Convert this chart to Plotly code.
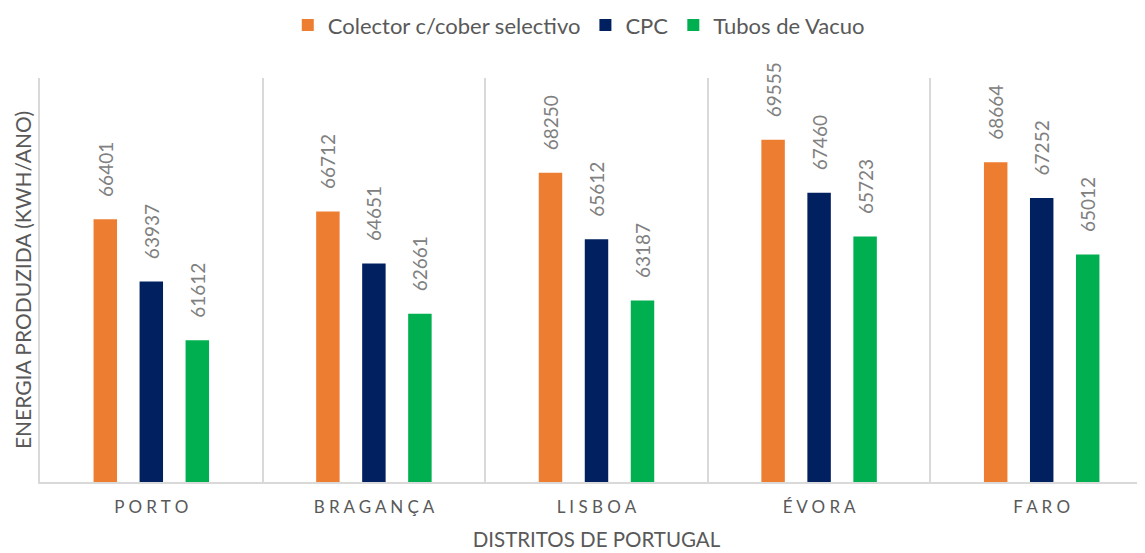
import plotly.graph_objects as go

districts = ["PORTO", "BRAGANÇA", "LISBOA", "ÉVORA", "FARO"]
series_names = ["Colector c/cober selectivo", "CPC", "Tubos de Vacuo"]
colector = [66401, 66712, 68250, 69555, 68664]
cpc = [63937, 64651, 65612, 67460, 67252]
tubos = [61612, 62661, 63187, 65723, 65012]
colors = ["#ED7D31", "#002060", "#00B050"]

FONT = "Lato, 'Liberation Sans', Arial, sans-serif"

def spaced(s):
    return " ".join(list(s))

tick_text = [spaced(d) for d in districts]

fig = go.Figure()
for name, vals, col in zip(series_names, [colector, cpc, tubos], colors):
    fig.add_trace(go.Bar(
        x=districts, y=vals, name=name,
        marker=dict(color=col, line=dict(width=0)),
        text=["\u00a0\u00a0\u00a0\u00a0" + str(v) for v in vals],
        textposition="outside", textangle=-90,
        textfont=dict(family=FONT, size=19, color="#808080"),
        constraintext="none", cliponaxis=False,
    ))

fig.update_layout(
    width=1145, height=553,
    margin=dict(l=32, r=0, t=70, b=79, autoexpand=False),
    paper_bgcolor="white", plot_bgcolor="white",
    barmode="group", bargap=0.38, bargroupgap=0.49,
    font=dict(family=FONT, color="#595959"),
    legend=dict(orientation="h", xref="container", yref="container",
                x=0.4985, xanchor="center", y=0.969, yanchor="middle",
                font=dict(size=22, color="#595959"), itemwidth=30,
                traceorder="normal"),
    showlegend=True,
)
fig.update_xaxes(
    type="category", range=[-0.5, 4.5], automargin=False,
    tickmode="array", tickvals=districts, ticktext=tick_text,
    tickson="boundaries", ticks="", ticklen=0,
    showgrid=True, gridcolor="#D9D9D9", gridwidth=1.5,
    showline=True, linecolor="#D9D9D9", linewidth=2,
    tickfont=dict(size=17, color="#595959"), ticklabelstandoff=9,
    title=dict(text="DISTRITOS DE PORTUGAL", font=dict(size=20.5, color="#595959"), standoff=16),
)
fig.update_yaxes(
    range=[56000, 72000], showticklabels=False, showgrid=False, zeroline=False,
    automargin=False,
    showline=True, linecolor="#D9D9D9", linewidth=1.5,
    title=dict(text="ENERGIA PRODUZIDA (KWH/ANO)", font=dict(size=21, color="#595959"), standoff=1),
)

fig.write_html("out.html")
